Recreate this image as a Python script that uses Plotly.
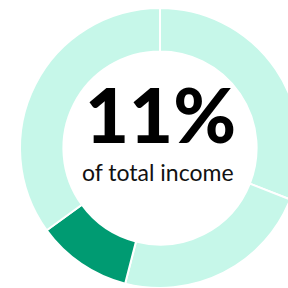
import plotly.graph_objects as go

labels = ["Segment A", "Segment B", "Share of income", "Segment C"]
values = [31, 23, 11, 35]
colors = ["#c6f7e9", "#c6f7e9", "#009b72", "#c6f7e9"]
headline = "11%"
subtitle = "of total income"

W, H = 300, 288

fig = go.Figure(go.Pie(
    labels=labels,
    values=values,
    sort=False,
    direction="clockwise",
    rotation=0,
    hole=0.69,
    marker=dict(colors=colors, line=dict(color="white", width=2)),
    textinfo="none",
    hoverinfo="skip",
    showlegend=False,
    domain=dict(x=[20 / W, 1], y=[0, 280 / H]),
))

fig.add_annotation(text=headline, x=160 / W, y=1 - 113 / H, xref="paper", yref="paper",
                   xanchor="center", yanchor="middle", showarrow=False,
                   font=dict(family="Lato", size=76, color="#000000", weight=900))
fig.add_annotation(text=subtitle, x=158 / W, y=1 - 172 / H, xref="paper", yref="paper",
                   xanchor="center", yanchor="middle", showarrow=False,
                   font=dict(family="Lato", size=23, color="#111111"))

fig.update_layout(width=W, height=H, margin=dict(l=0, r=0, t=0, b=0),
                  paper_bgcolor="white", plot_bgcolor="white")

fig.write_html("out.html", config={"displayModeBar": False},
               post_script="document.body.style.margin='0';document.body.style.overflow='hidden';document.documentElement.style.overflow='hidden';")
